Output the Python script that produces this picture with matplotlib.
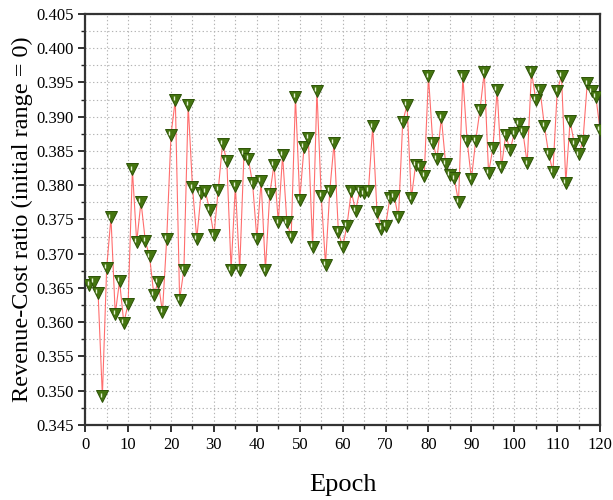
#!/usr/bin/env python3
"""Revenue-cost ratio per epoch (initial range = 0)."""

import numpy as np
import matplotlib
matplotlib.use("Agg")
import matplotlib.pyplot as plt
from matplotlib.ticker import MultipleLocator, FormatStrFormatter
from matplotlib.transforms import offset_copy

epochs = np.arange(1, 121)
ratio = [
    0.3655, 0.3659, 0.3643, 0.3492, 0.3679, 0.3753, 0.3612, 0.3660, 0.3599, 0.3627,
    0.3823, 0.3717, 0.3776, 0.3719, 0.3696, 0.3640, 0.3659, 0.3615, 0.3722, 0.3874,
    0.3925, 0.3633, 0.3677, 0.3917, 0.3797, 0.3722, 0.3788, 0.3791, 0.3764, 0.3727,
    0.3793, 0.3860, 0.3836, 0.3677, 0.3799, 0.3677, 0.3846, 0.3839, 0.3803, 0.3722,
    0.3806, 0.3676, 0.3787, 0.3830, 0.3746, 0.3844, 0.3746, 0.3725, 0.3929, 0.3779,
    0.3856, 0.3869, 0.3710, 0.3938, 0.3785, 0.3684, 0.3792, 0.3862, 0.3732, 0.3710,
    0.3741, 0.3791, 0.3763, 0.3792, 0.3788, 0.3792, 0.3886, 0.3761, 0.3736, 0.3741,
    0.3781, 0.3784, 0.3753, 0.3893, 0.3917, 0.3781, 0.3830, 0.3827, 0.3814, 0.3959,
    0.3862, 0.3839, 0.3899, 0.3831, 0.3815, 0.3810, 0.3776, 0.3959, 0.3865, 0.3809,
    0.3865, 0.3910, 0.3965, 0.3818, 0.3854, 0.3939, 0.3826, 0.3874, 0.3851, 0.3876,
    0.3890, 0.3878, 0.3832, 0.3966, 0.3925, 0.3939, 0.3887, 0.3846, 0.3820, 0.3938,
    0.3960, 0.3804, 0.3894, 0.3860, 0.3845, 0.3865, 0.3949, 0.3937, 0.3929, 0.3881,
]

plt.rcParams["font.family"] = ["Liberation Serif", "DejaVu Serif"]

fig = plt.figure(figsize=(6.13, 5.0), dpi=100)
ax = fig.add_axes([0.139, 0.15, 0.840, 0.822])

ax.plot(epochs, ratio, color="#ff5555", linewidth=0.8, alpha=0.85, zorder=2)
ax.plot(epochs, ratio, linestyle="none", marker="v", markersize=8.5,
        markerfacecolor="#44750f", markeredgecolor="#2c5206",
        markeredgewidth=0.7, zorder=3)
# light glint on each marker, like the shaded markers of the original
glint = offset_copy(ax.transData, fig=fig, x=-1.2, y=1.2, units="points")
ax.plot(epochs, ratio, linestyle="none", marker="|", markersize=3.5,
        markeredgecolor="#e6f2d6", markeredgewidth=1.0,
        transform=glint, zorder=4)

ax.set_xlim(0, 120)
ax.set_ylim(0.345, 0.405)
ax.xaxis.set_major_locator(MultipleLocator(10))
ax.xaxis.set_minor_locator(MultipleLocator(5))
ax.yaxis.set_major_locator(MultipleLocator(0.005))
ax.yaxis.set_minor_locator(MultipleLocator(0.0025))
ax.yaxis.set_major_formatter(FormatStrFormatter("%.3f"))

ax.grid(which="both", linestyle=(0, (1.2, 2.2)), color="#b4b4b4", linewidth=0.8)
ax.set_axisbelow(True)

ax.tick_params(which="both", direction="out", top=False, right=False,
               labelsize=12, color="#222222")
ax.tick_params(which="major", length=5, width=1.3)
ax.tick_params(which="minor", length=3, width=1.0)
for side in ax.spines.values():
    side.set_linewidth(1.6)
    side.set_color("#333333")

ax.set_xlabel("Epoch", fontsize=19, labelpad=15)
ax.set_ylabel("Revenue-Cost ratio (initial range = 0)", fontsize=17.5, labelpad=2)

fig.savefig("out.png", dpi=100)
